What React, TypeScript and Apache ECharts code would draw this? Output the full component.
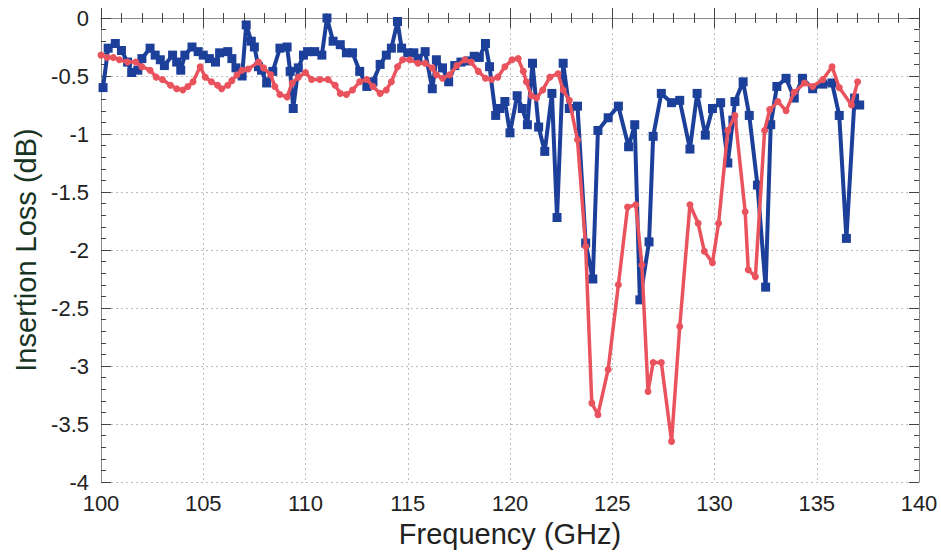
import React, { useEffect, useRef } from "react";
import * as echarts from "echarts";

// Frequency sweep, GHz
const blueFreq = [
  100.1, 100.35, 100.7, 101.0, 101.3, 101.5, 101.8, 102.0, 102.4, 102.65,
  102.9, 103.1, 103.5, 103.7, 103.9, 104.1, 104.45, 104.75, 105.0, 105.3,
  105.6, 105.8, 106.2, 106.4, 106.6, 106.9, 107.1, 107.35, 107.5, 107.7,
  107.85, 108.1, 108.4, 108.75, 109.1, 109.25, 109.4, 109.65, 109.9, 110.1,
  110.45, 110.8, 111.05, 111.35, 111.7, 112.0, 112.3, 112.65, 113.0, 113.3,
  113.65, 113.95, 114.2, 114.5, 114.7, 115.0, 115.3, 115.5, 115.85, 116.2,
  116.4, 116.7, 117.0, 117.3, 117.6, 117.95, 118.25, 118.5, 118.8, 119.0,
  119.3, 119.5, 119.75, 120.0, 120.35, 120.6, 120.85, 121.1, 121.4, 121.7,
  122.05, 122.3, 122.6, 122.9, 123.3, 123.7, 124.05, 124.3, 124.8, 125.3,
  125.8, 126.1, 126.35, 126.8, 127.0, 127.4, 127.9, 128.3, 128.8, 129.15,
  129.55, 129.9, 130.3, 130.65, 130.9, 131.0, 131.4, 131.7, 132.1, 132.5,
  132.75, 133.05, 133.5, 133.9, 134.3, 134.8, 135.3, 135.75, 136.1, 136.45,
  136.85, 137.1,
];
// Insertion loss, dB
const blueLoss = [
  -0.6, -0.26, -0.22, -0.28, -0.38, -0.47, -0.45, -0.35, -0.26, -0.32,
  -0.36, -0.41, -0.32, -0.38, -0.45, -0.32, -0.25, -0.29, -0.32, -0.35,
  -0.38, -0.3, -0.29, -0.35, -0.43, -0.5, -0.06, -0.2, -0.25, -0.42,
  -0.45, -0.56, -0.46, -0.26, -0.25, -0.46, -0.78, -0.43, -0.32, -0.29,
  -0.29, -0.32, 0.0, -0.2, -0.23, -0.3, -0.3, -0.46, -0.59, -0.55,
  -0.4, -0.32, -0.26, -0.03, -0.26, -0.3, -0.3, -0.35, -0.29, -0.61,
  -0.36, -0.43, -0.55, -0.41, -0.38, -0.37, -0.33, -0.34, -0.22, -0.42,
  -0.84, -0.78, -0.72, -0.99, -0.67, -0.78, -0.92, -0.39, -0.94, -1.15,
  -0.65, -1.72, -0.39, -0.78, -0.76, -1.94, -2.25, -0.97, -0.86, -0.76,
  -1.11, -0.92, -2.43, -1.93, -1.02, -0.65, -0.73, -0.71, -1.13, -0.65,
  -1.01, -0.78, -0.73, -1.25, -0.88, -0.72, -0.55, -0.84, -1.44, -2.32,
  -0.92, -0.59, -0.52, -0.69, -0.52, -0.61, -0.57, -0.56, -0.84, -1.9,
  -0.69, -0.75,
];

const redFreq = [
  100.0, 100.3, 100.6, 100.9, 101.3, 101.7, 102.0, 102.4, 102.7, 103.0,
  103.4, 103.7, 104.0, 104.25, 104.5, 104.85, 105.1, 105.4, 105.7, 105.9,
  106.2, 106.4, 106.65, 106.9, 107.2, 107.7, 107.95, 108.3, 108.5, 108.75,
  109.1, 109.35, 109.65, 110.0, 110.3, 110.7, 111.1, 111.45, 111.7, 112.0,
  112.3, 112.65, 113.0, 113.3, 113.65, 113.95, 114.2, 114.5, 114.75, 115.1,
  115.5, 115.85, 116.2, 116.4, 116.7, 117.05, 117.4, 117.8, 118.1, 118.45,
  118.8, 119.1, 119.4, 119.75, 120.1, 120.4, 120.65, 120.8, 121.05, 121.3,
  121.6, 121.95, 122.35, 122.6, 122.9, 123.3, 123.7, 124.0, 124.3, 124.8,
  125.3, 125.75, 126.15, 126.45, 126.75, 127.0, 127.4, 127.9, 128.3, 128.8,
  129.2, 129.5, 129.9, 130.2, 130.65, 131.0, 131.5, 131.65, 132.0, 132.45,
  132.7, 133.1, 133.5, 133.9, 134.4, 134.8, 135.3, 135.75, 136.1, 136.7,
  137.0,
];
const redLoss = [
  -0.32, -0.34, -0.34, -0.36, -0.38, -0.38, -0.42, -0.45, -0.51, -0.53,
  -0.58, -0.61, -0.62, -0.59, -0.55, -0.42, -0.51, -0.55, -0.58, -0.61,
  -0.58, -0.54, -0.49, -0.45, -0.44, -0.38, -0.43, -0.49, -0.59, -0.66,
  -0.68, -0.56, -0.51, -0.47, -0.53, -0.53, -0.53, -0.58, -0.65, -0.66,
  -0.62, -0.55, -0.53, -0.59, -0.65, -0.62, -0.55, -0.42, -0.36, -0.36,
  -0.39, -0.39, -0.43, -0.49, -0.52, -0.49, -0.41, -0.36, -0.38, -0.46,
  -0.52, -0.53, -0.51, -0.42, -0.36, -0.35, -0.46, -0.55, -0.67, -0.69,
  -0.62, -0.51, -0.48, -0.62, -0.71, -1.05, -1.97, -3.32, -3.42, -3.03,
  -2.3, -1.63, -1.61, -2.13, -3.22, -2.97, -2.97, -3.65, -2.66, -1.61,
  -1.77, -2.01, -2.11, -1.77, -0.97, -0.84, -1.67, -2.17, -2.23, -0.97,
  -0.79, -0.72, -0.8, -0.64, -0.56, -0.59, -0.53, -0.42, -0.6, -0.75,
  -0.55,
];

const xTicks = [100, 140, 5];
const yTicks = [-4, 0, 0.5];

const BLUE = "#1c3f9a";
const RED = "#e9535d";
const FRAME = "#8a8a8a";
const FONT = "'Liberation Sans', Arial, Helvetica, sans-serif";

const pairs = (xs: number[], ys: number[]) => xs.map((x, i) => [x, ys[i]]);

export default function App() {
  const ref = useRef<HTMLDivElement>(null);

  useEffect(() => {
    document.body.style.margin = "0";
    if (!ref.current) return;
    const chart = echarts.init(ref.current, null, { renderer: "svg" });

    const tickCommon = {
      axisLine: { show: true, lineStyle: { color: FRAME, width: 1 } },
      axisTick: { show: true, inside: true, length: 10, lineStyle: { color: "#444", width: 1 } },
      minorTick: { show: true, splitNumber: 5, length: 5, lineStyle: { color: "#444", width: 1 } },
    };

    chart.setOption({
      animation: false,
      backgroundColor: "#ffffff",
      grid: { left: 101, right: 22, top: 18, bottom: 72, containLabel: false },
      xAxis: [
        {
          type: "value",
          min: xTicks[0],
          max: xTicks[1],
          interval: xTicks[2],
          position: "bottom",
          name: "Frequency (GHz)",
          nameLocation: "middle",
          nameGap: 37,
          nameTextStyle: { fontFamily: FONT, fontSize: 29, color: "#222" },
          axisLabel: { fontFamily: FONT, fontSize: 22, lineHeight: 18, color: "#222", margin: 12 },
          splitLine: { show: true, lineStyle: { color: "#bdbdbd", type: [2, 3], width: 1 } },
          ...tickCommon,
        },
        {
          type: "value",
          min: xTicks[0],
          max: xTicks[1],
          interval: xTicks[2],
          position: "top",
          axisLabel: { show: false },
          splitLine: { show: false },
          ...tickCommon,
        },
      ],
      yAxis: [
        {
          type: "value",
          min: yTicks[0],
          max: yTicks[1],
          interval: yTicks[2],
          position: "left",
          name: "Insertion Loss (dB)",
          nameLocation: "middle",
          nameGap: 53,
          nameTextStyle: { fontFamily: FONT, fontSize: 29, color: "#173322" },
          axisLabel: { fontFamily: FONT, fontSize: 22, lineHeight: 16, color: "#222", margin: 12 },
          splitLine: { show: true, lineStyle: { color: "#bdbdbd", type: [2, 3], width: 1 } },
          ...tickCommon,
        },
        {
          type: "value",
          min: yTicks[0],
          max: yTicks[1],
          interval: yTicks[2],
          position: "right",
          axisLabel: { show: false },
          splitLine: { show: false },
          ...tickCommon,
        },
      ],
      series: [
        {
          type: "line",
          data: pairs(blueFreq, blueLoss),
          symbol: "rect",
          symbolSize: 9,
          showAllSymbol: true,
          lineStyle: { color: BLUE, width: 4 },
          itemStyle: { color: BLUE },
          z: 2,
        },
        {
          type: "line",
          data: pairs(redFreq, redLoss),
          symbol: "circle",
          symbolSize: 7,
          showAllSymbol: true,
          lineStyle: { color: RED, width: 3.5 },
          itemStyle: { color: RED },
          z: 3,
        },
      ],
    });

    return () => chart.dispose();
  }, []);

  return (
    <div
      ref={ref}
      style={{ position: "absolute", left: 0, top: 0, width: 941, height: 554 }}
    />
  );
}
